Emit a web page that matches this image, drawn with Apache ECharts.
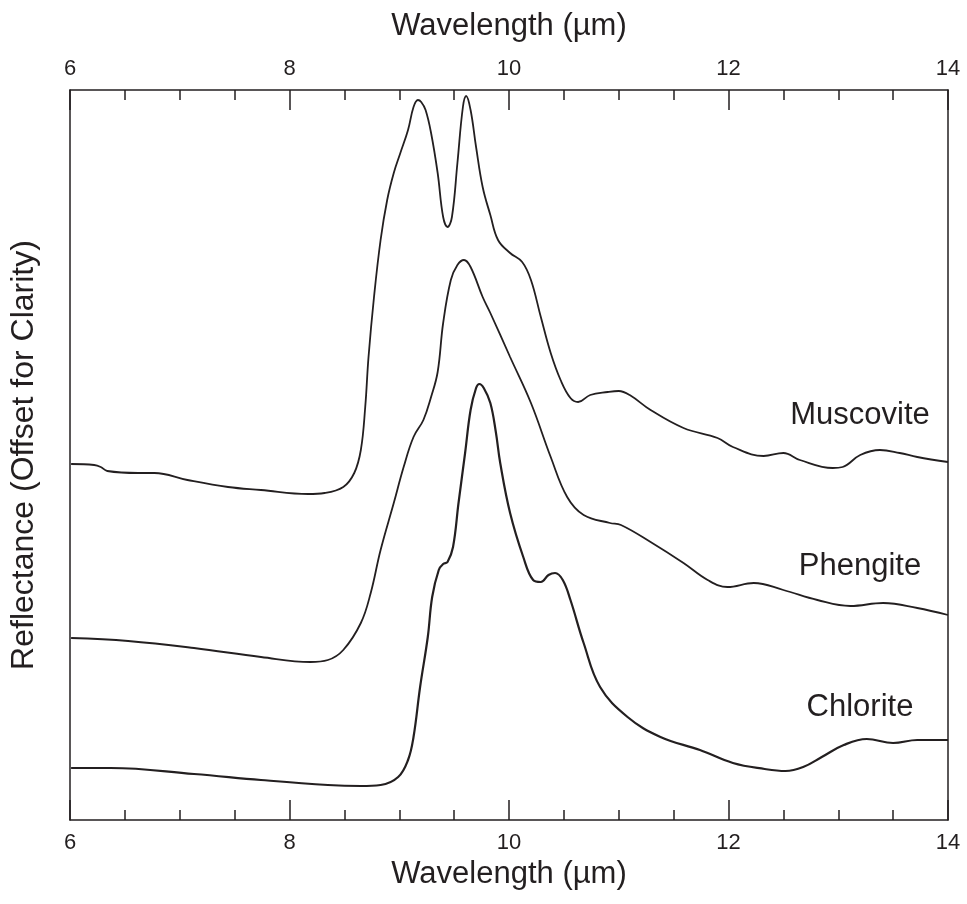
<!DOCTYPE html>
<html>
<head>
<meta charset="utf-8">
<script src="https://cdn.jsdelivr.net/npm/echarts@6/dist/echarts.min.js"></script>
<style>
  html, body { margin: 0; background: #fff; }
  #main { width: 967px; height: 904px; }
</style>
</head>
<body>
<div id="main"></div>
<script>
// wavelength (um), reflectance (offset, arbitrary units)
var muscovite = [
  [6.01, 35.6], [6.22, 35.5], [6.28, 35.3], [6.34, 34.9], [6.62, 34.7],
  [6.77, 34.7], [7.07, 34.0], [7.44, 33.3], [7.74, 33.0], [8.17, 32.6],
  [8.32, 32.7], [8.49, 33.3], [8.59, 34.7], [8.65, 37.0], [8.69, 41.3],
  [8.72, 46.3], [8.77, 52.3], [8.83, 58.0], [8.89, 62.0], [8.95, 64.7],
  [9.01, 66.7], [9.08, 69.0], [9.13, 71.3], [9.17, 72.0], [9.20, 71.8],
  [9.24, 71.0], [9.29, 68.7], [9.35, 64.7], [9.40, 60.3], [9.44, 59.3],
  [9.48, 60.3], [9.53, 65.7], [9.58, 71.3], [9.61, 72.4], [9.65, 71.0],
  [9.70, 67.3], [9.76, 63.3], [9.83, 60.5], [9.90, 58.0], [10.01, 56.7],
  [10.12, 55.8], [10.20, 54.0], [10.29, 50.3], [10.38, 46.7], [10.47, 44.0],
  [10.56, 42.2], [10.63, 41.8], [10.74, 42.5], [10.90, 42.8], [11.00, 42.9],
  [11.10, 42.5], [11.29, 41.0], [11.59, 39.2], [11.90, 38.2], [12.04, 37.3],
  [12.32, 36.4], [12.50, 36.7], [12.65, 36.0], [12.95, 35.2], [13.04, 35.3],
  [13.20, 36.5], [13.38, 37.0], [13.56, 36.7], [13.72, 36.3], [14.00, 35.8]
];

var phengite = [
  [6.01, 18.2], [6.53, 17.9], [7.13, 17.2], [7.74, 16.3], [8.19, 15.8],
  [8.35, 16.0], [8.49, 17.0], [8.65, 19.7], [8.74, 22.7], [8.83, 27.0],
  [8.95, 31.7], [9.04, 35.3], [9.13, 38.3], [9.22, 40.0], [9.29, 42.3],
  [9.35, 44.8], [9.40, 49.7], [9.47, 54.0], [9.53, 55.5], [9.59, 56.0],
  [9.65, 55.3], [9.76, 52.3], [9.83, 50.7], [10.01, 46.3], [10.20, 41.7],
  [10.38, 36.3], [10.53, 32.3], [10.68, 30.5], [10.92, 29.7], [11.02, 29.5],
  [11.29, 27.8], [11.59, 25.7], [11.81, 24.0], [11.99, 23.3], [12.23, 23.7],
  [12.50, 23.0], [12.81, 22.0], [13.11, 21.4], [13.41, 21.7], [13.72, 21.2],
  [14.00, 20.5]
];

var chlorite = [
  [6.01, 5.2], [6.37, 5.2], [7.13, 4.6], [7.74, 4.0], [8.35, 3.5],
  [8.65, 3.4], [8.83, 3.5], [8.99, 4.3], [9.08, 6.0], [9.13, 8.3],
  [9.19, 13.3], [9.26, 18.3], [9.30, 22.3], [9.36, 25.0], [9.40, 25.6],
  [9.44, 25.8], [9.49, 27.3], [9.54, 31.7], [9.60, 36.7], [9.65, 41.0],
  [9.70, 43.2], [9.73, 43.6], [9.77, 43.2], [9.83, 41.7], [9.88, 38.8],
  [9.92, 35.7], [10.01, 30.7], [10.13, 26.3], [10.22, 24.0], [10.29, 23.8],
  [10.36, 24.5], [10.42, 24.7], [10.49, 24.0], [10.56, 22.0], [10.68, 17.7],
  [10.83, 13.3], [11.08, 10.3], [11.38, 8.3], [11.74, 7.0], [12.04, 5.7],
  [12.33, 5.1], [12.52, 4.9], [12.68, 5.3], [12.85, 6.3], [13.05, 7.5],
  [13.26, 8.1], [13.50, 7.7], [13.72, 8.0], [14.00, 8.0]
];

var mineralNames = ["Muscovite", "Phengite", "Chlorite"];
var xTitle = "Wavelength (\u00b5m)";
var yTitle = "Reflectance (Offset for Clarity)";

var myChart = echarts.init(document.getElementById("main"));
var ink = "#231f20";
var font = "Liberation Sans, Arial, sans-serif";

function wavelengthAxis(pos, gap, labelMargin) {
  return {
    type: "value",
    position: pos,
    min: 6,
    max: 14,
    interval: 2,
    name: xTitle,
    nameLocation: "middle",
    nameGap: gap,
    nameTextStyle: { fontSize: 31, color: ink, fontFamily: font },
    axisLine: { show: true, onZero: false, lineStyle: { color: ink, width: 1.5 } },
    axisTick: { show: true, inside: true, length: 20, lineStyle: { color: ink, width: 1.5 } },
    minorTick: { show: true, splitNumber: 4, length: 10, lineStyle: { color: ink, width: 1.5 } },
    axisLabel: { fontSize: 22, color: ink, fontFamily: font, margin: labelMargin },
    splitLine: { show: false },
  };
}

function spectrum(name, data, width) {
  return {
    name: name,
    type: "line",
    data: data,
    showSymbol: false,
    smooth: 0.4,
    lineStyle: { color: ink, width: width },
    silent: true,
  };
}

var option = {
  backgroundColor: "#fff",
  animation: false,
  grid: { left: 69, right: 19, top: 90, bottom: 84 },
  xAxis: [wavelengthAxis("bottom", 38, 12), wavelengthAxis("top", 48, 10)],
  yAxis: [
    {
      type: "value",
      min: 0,
      max: 73,
      name: yTitle,
      nameLocation: "middle",
      nameRotate: 90,
      nameGap: 30,
      nameTextStyle: { fontSize: 32, color: ink, fontFamily: font },
      axisLine: { show: true, lineStyle: { color: ink, width: 1.5 } },
      axisTick: { show: false },
      axisLabel: { show: false },
      splitLine: { show: false },
    },
    {
      type: "value",
      position: "right",
      min: 0,
      max: 73,
      axisLine: { show: true, lineStyle: { color: ink, width: 1.5 } },
      axisTick: { show: false },
      axisLabel: { show: false },
      splitLine: { show: false },
    },
  ],
  graphic: [
    { type: "text", x: 860, y: 415, style: { text: mineralNames[0], fontSize: 31, fontFamily: font, fill: ink, textAlign: "center", textVerticalAlign: "middle" } },
    { type: "text", x: 860, y: 566, style: { text: mineralNames[1], fontSize: 31, fontFamily: font, fill: ink, textAlign: "center", textVerticalAlign: "middle" } },
    { type: "text", x: 860, y: 707, style: { text: mineralNames[2], fontSize: 31, fontFamily: font, fill: ink, textAlign: "center", textVerticalAlign: "middle" } },
  ],
  series: [
    spectrum(mineralNames[0], muscovite, 1.8),
    spectrum(mineralNames[1], phengite, 1.8),
    spectrum(mineralNames[2], chlorite, 2.2),
  ],
};

myChart.setOption(option);
</script>
</body>
</html>
